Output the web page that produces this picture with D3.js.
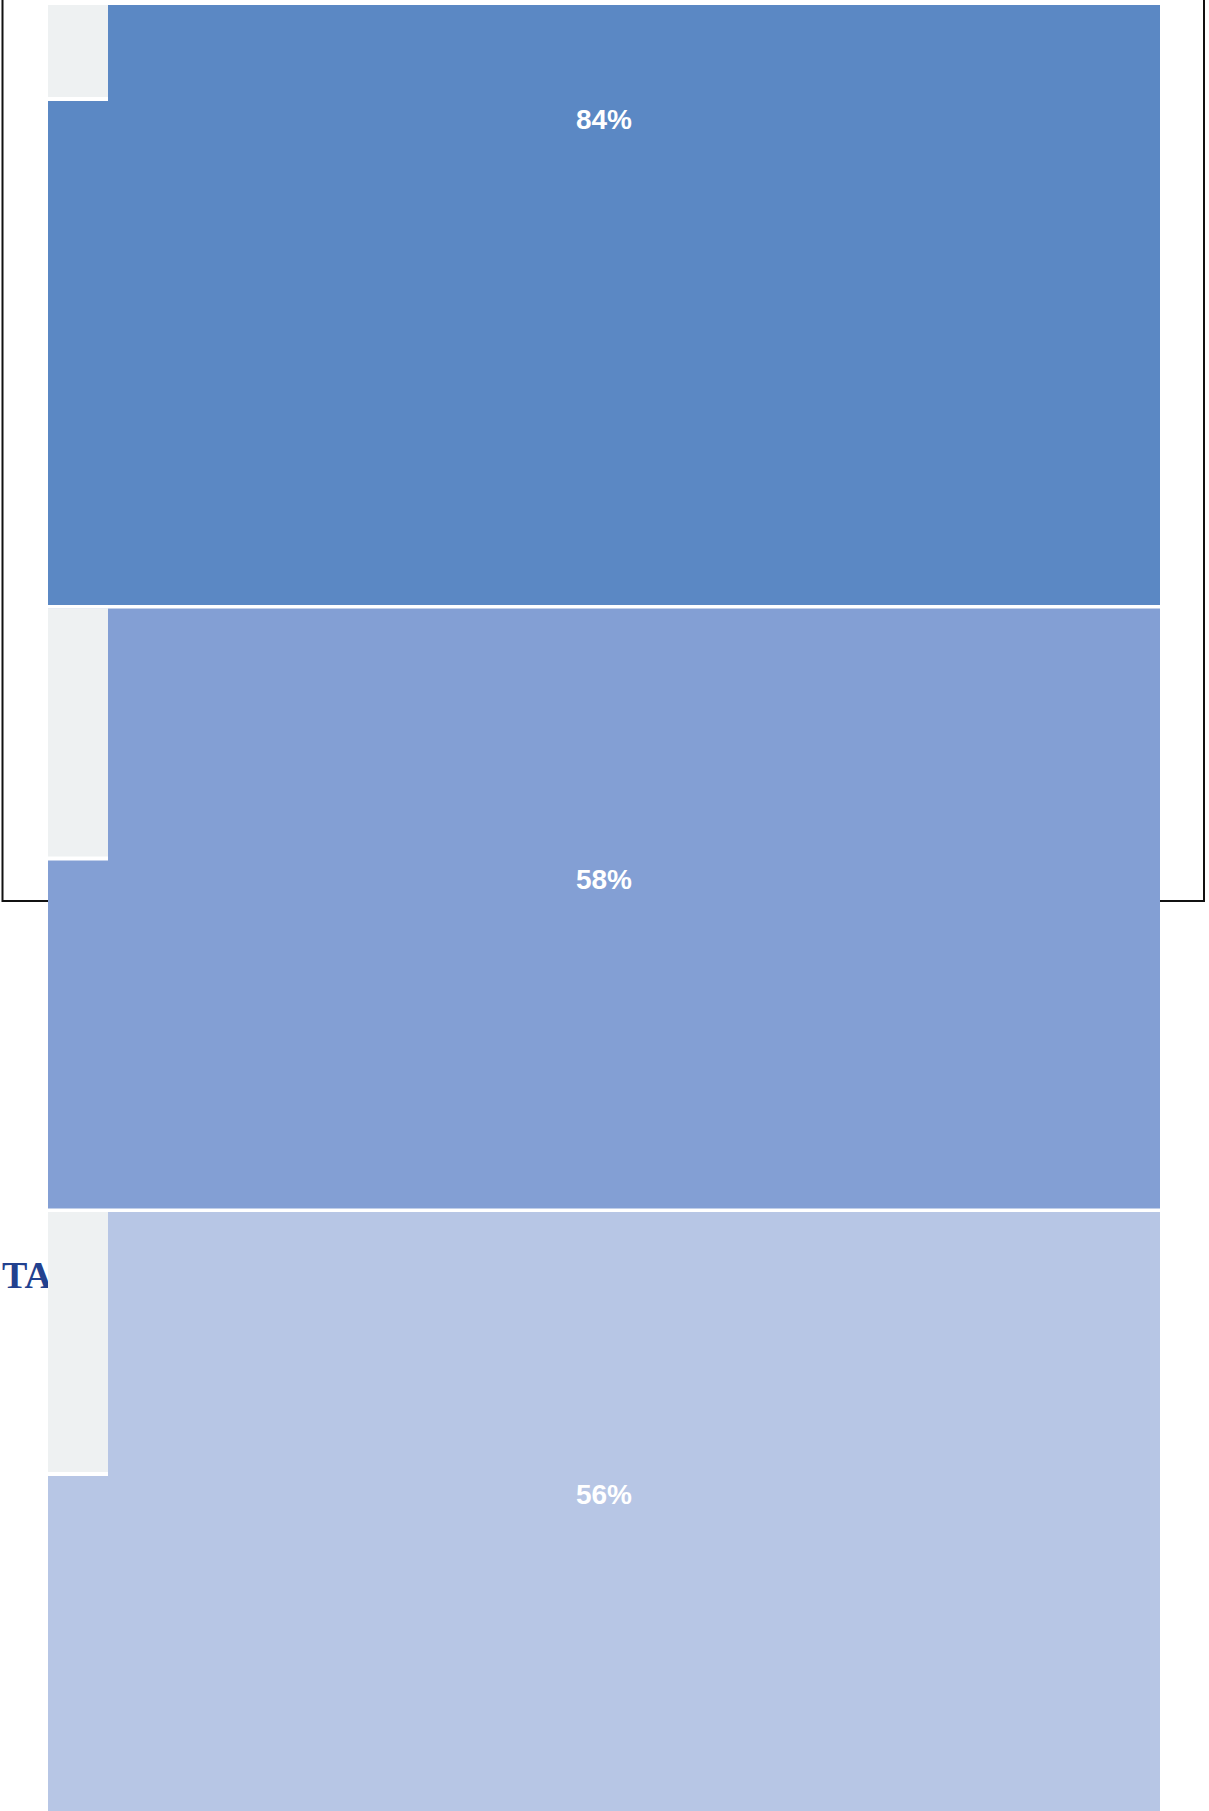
<!DOCTYPE html>
<html>
<head>
<meta charset="utf-8">
<script src="https://cdn.jsdelivr.net/npm/d3@7"></script>
<style>
  html, body { margin: 0; padding: 0; background: #fff; overflow: hidden; }
  svg { display: block; }
  .pct { font-family: "Liberation Sans", Arial, sans-serif; font-weight: bold; font-size: 28px; fill: #fff; }
  .head { font-family: "Liberation Serif", "Times New Roman", serif; font-weight: bold; font-size: 38px; fill: #22418f; }
</style>
</head>
<body>
<svg width="1209" height="1811"></svg>
<script>
var rows = ['row1', 'row2', 'row3'];
var values = [84, 58, 56];
var colors = ['#5b88c4', '#839fd4', '#b7c6e5'];
var trackColor = '#eef1f2';

var svg = d3.select('svg'),
  width = +svg.attr('width'),
  height = +svg.attr('height');

// rows stacked top to bottom, each a card with a gauge column on the left
var y = d3.scaleBand()
  .domain(rows)
  .range([5, 1812])
  .paddingInner(0.0058);

var x = d3.scaleLinear()
  .domain([0, 1])
  .range([48, 1160]);

var fill = d3.scaleLinear()
  .domain([0, 100])
  .range([0, y.bandwidth()]);

var gaugeW = 60, gap = 4;

// frame behind the cards
svg.append('path')
  .attr('d', 'M2.5,0V901H1204V0')
  .attr('fill', 'none')
  .attr('stroke', '#111')
  .attr('stroke-width', 2);

svg.append('text')
  .attr('class', 'head')
  .attr('x', 2)
  .attr('y', 1288)
  .text('TA');

var data = rows.map(function(r, i) {
  return { row: r, value: values[i], color: colors[i] };
});

var g = svg.selectAll('.row')
  .data(data)
  .enter()
  .append('g')
  .attr('class', 'row');

g.append('rect')
  .attr('x', x(0))
  .attr('y', function(d) { return y(d.row); })
  .attr('width', x(1) - x(0))
  .attr('height', y.bandwidth())
  .attr('fill', function(d) { return d.color; });

// empty part of the gauge: white slot with the grey track above the fill
g.append('rect')
  .attr('x', x(0))
  .attr('y', function(d) { return y(d.row); })
  .attr('width', gaugeW)
  .attr('height', function(d) { return y.bandwidth() - fill(d.value); })
  .attr('fill', '#fff');

g.append('rect')
  .attr('x', x(0))
  .attr('y', function(d) { return y(d.row); })
  .attr('width', gaugeW)
  .attr('height', function(d) { return y.bandwidth() - fill(d.value) - gap; })
  .attr('fill', trackColor);

g.append('text')
  .attr('class', 'pct')
  .attr('x', (x(0) + x(1)) / 2)
  .attr('y', function(d) { return y(d.row) + y.bandwidth() - fill(d.value) + 28; })
  .attr('text-anchor', 'middle')
  .text(function(d) { return d.value + '%'; });
</script>
</body>
</html>
